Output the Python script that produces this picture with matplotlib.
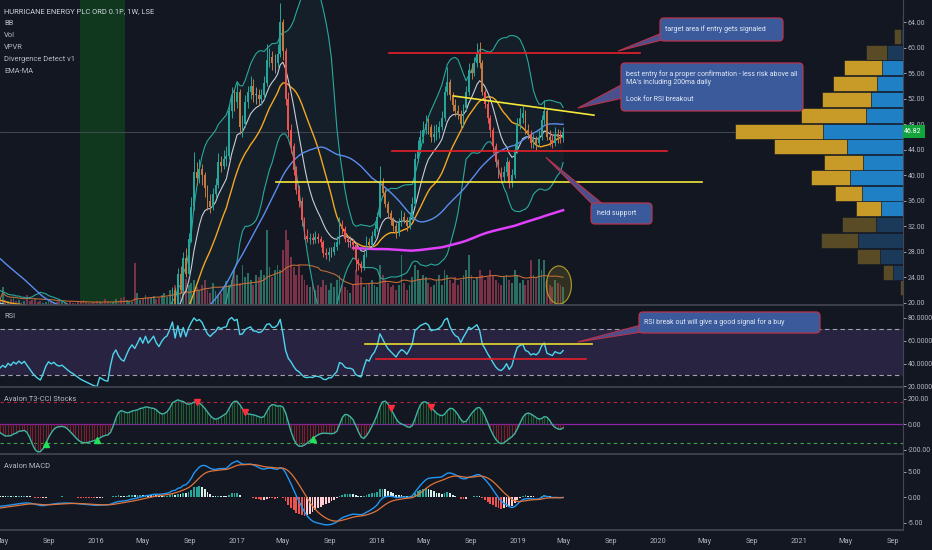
import matplotlib
matplotlib.use('Agg')
import matplotlib.pyplot as plt
import matplotlib.dates as mdates
import matplotlib.transforms as mtrans
from matplotlib.patches import FancyBboxPatch, Polygon, Ellipse
import numpy as np
import pandas as pd

plt.rcParams['font.family'] = ['Roboto', 'DejaVu Sans']

BG = '#131722'
TXT = '#b2b5be'
FS = 5.0

# weekly closes, first week 2014-01-06
closes = [
    30, 31, 32, 31.5, 33, 34, 35, 34, 35.5, 36, 37, 36.5, 38, 37.5, 38.5, 37, 38,
    38.5, 37.5, 38, 39, 37.5, 36.5, 37, 38, 37, 36, 37.5, 38, 37, 36, 35.5, 36, 35,
    33, 31, 29.5, 28, 27, 26, 25, 24.5, 24, 23.5, 23, 22.8, 22.5, 22.2, 22, 21.8, 21.6, 21.5,
    21.0, 20.1, 21.0, 20.0, 20.9, 19.9, 20.8, 19.8, 20.7, 19.7, 20.6, 19.6, 20.5, 19.5, 20.4, 19.4, 19.0,
    19.4, 18.9, 19.5, 19.0, 19.5, 19.1, 19.5, 19.0, 19.3,
    18.6, 17.8, 16.9, 16.1, 15.4, 14.9, 15.6,
    16.5, 17.1, 16.7, 16.9, 16.4, 16.2,
    16.3, 15.9, 15.5, 15.1, 14.8, 14.4, 14.0, 13.6, 13.3,
    13.0, 12.7, 12.4, 12.1, 11.9, 12.5, 12.2,
    11.9, 11.8, 12.9, 14.0, 14.5, 13.8,
    13.3, 13.1, 13.8, 14.5, 15.0, 14.6,
    15.3, 16.2, 15.6, 16.8, 16.0, 16.6, 17.3, 16.5,
    16.0, 16.9, 17.6, 18,
    19.5, 22, 19.6, 24.5, 22, 27, 24.5, 30, 35, 40.5,
    39.5, 41, 40, 38, 36, 35, 37, 38.5, 42, 41.5,
    42.5, 43, 50, 52.5, 51.5, 53, 47.5, 48, 51.5, 53,
    54, 52.5, 52.5, 52, 52.5, 54.5, 58, 58.5, 57.5, 57.5,
    59, 64, 59.5, 52, 47, 44.5, 40.8, 37.6, 36, 33,
    30.5, 30, 30.2, 29.8, 30.3, 30, 29.5, 27.8, 27.5, 28,
    28, 28.8, 29.5, 32, 31.5, 30, 29.5, 29.5, 29, 26.7,
    26, 25.5, 27.5, 29.5, 29, 30.5, 31.5, 33.5, 38.7, 37.2,
    35.5, 34, 33, 32, 31, 32.5, 33.5, 33, 32, 33.5,
    35.5, 42.5, 44, 46, 47, 48, 47.5, 46, 46.5, 46.7,
    47.5, 49, 53, 54.6, 52.5, 51, 50, 49.6, 48, 50.5,
    53, 56.5, 56, 57.5, 59, 57.5, 53, 51.2, 49, 47,
    44.5, 42, 40.3, 39.7, 40.5, 42, 38.7, 40, 44, 48,
    49, 49.7, 47, 46.5, 45, 45.5, 45, 46, 48.6, 50,
    46, 45.5, 45, 46.5, 46, 45.8, 46.82,
]

# highs / lows of the weeks shown on the price pane (from 2016-07-11)
vis_highs = [
    20, 22.5, 22.5, 25.5, 25.8, 28, 28.5, 31, 36.5, 43.6,
    42, 42.5, 41.8, 40.5, 38.5, 37, 38, 39.5, 43.5, 43,
    44, 44.5, 51, 53.8, 53.5, 54.5, 53.5, 49.5, 52.5, 54,
    55.5, 55, 53.8, 53.5, 53.5, 55.5, 60.5, 60, 59.5, 59,
    60.5, 67, 64.5, 60, 53, 48, 45, 41.5, 38.5, 36.5,
    33.5, 31.5, 31, 31, 31.2, 31, 30.5, 29.8, 28.5, 28.8,
    28.8, 29.5, 30.5, 33.5, 33, 32, 30.5, 30.5, 30, 29.3,
    27, 26.5, 28, 30.5, 30.2, 31.2, 32.5, 34.2, 41.5, 39.5,
    37.8, 36, 34.5, 33.5, 32.5, 33.2, 34.5, 34.2, 33.5, 34.2,
    36.5, 43.5, 45.5, 47, 48.5, 49.5, 49, 48, 47.8, 48,
    48.5, 50, 54, 57, 55, 53, 52, 51, 50.2, 51.2,
    54, 57.5, 57.5, 58.5, 60.7, 60.8, 58, 53.5, 52, 49.5,
    47.5, 45, 42.5, 41.2, 41.5, 42.8, 42.3, 41, 45, 49,
    50.5, 50.8, 50.2, 48, 47, 46.5, 46.2, 47, 49.5, 51.8,
    50.3, 47, 46.5, 47.5, 47.2, 47, 47.5,
]
vis_lows = [
    17.8, 19.2, 19.3, 19.4, 21.5, 21.8, 24, 24.2, 29.5, 34.5,
    38.5, 38.8, 38.5, 36.5, 34.5, 34, 34.5, 36.5, 38, 40.5,
    41, 41.5, 42.5, 49, 50, 50.5, 46.5, 46, 47.5, 50.5,
    52, 51.5, 51.2, 51, 51, 52, 54, 57, 56.5, 56,
    57, 58.5, 58, 51, 46, 43.5, 40, 37, 35, 32,
    30, 29.5, 29.2, 29.2, 29.4, 29.3, 28.8, 27.2, 26.8, 26.5,
    27.2, 27.5, 28.2, 29.2, 30.8, 29.5, 28.8, 28.8, 28.2, 25,
    25.2, 24.8, 25.2, 27.2, 28.4, 28.8, 30.2, 31.2, 33.2, 36.8,
    35, 33.5, 32.2, 31.3, 30.2, 30.5, 32, 32.5, 31.2, 31.5,
    33, 35, 42, 43.5, 45, 46.5, 46.5, 45.2, 45.2, 45.5,
    45.8, 47, 48.5, 52.5, 51.8, 50, 49.2, 48.8, 47, 47.5,
    50, 52.5, 55, 55.5, 57, 56.8, 52.5, 50.5, 48.2, 46,
    43.5, 41.2, 39.5, 38.8, 39, 39.8, 38, 38.2, 39.5, 43.5,
    47.2, 48.2, 46.5, 45.6, 44.2, 44.2, 44, 44.5, 45.5, 48,
    45.5, 44.5, 44.2, 44.5, 45, 45, 45.2,
]
vis_start = '2016-07-11'

# weekly volume (millions), from 2015-04-27
volumes = [
    6, 18, 5, 4, 6, 8, 4, 5, 3, 4, 10, 4,
    5, 6, 3, 4, 2, 3, 4, 3, 2, 3, 4, 3,
    3, 2, 3, 2, 2, 3, 4, 5, 3, 2, 2, 3,
    4, 3, 2, 6, 3, 2, 3, 6, 4, 7, 8, 5,
    4, 3, 42, 12, 5, 6, 10, 8, 8, 9, 6, 7,
    10, 12, 8, 15, 14, 20, 10, 25, 18, 26, 20, 22,
    25, 18, 15, 20, 25, 15, 12, 22, 14, 10, 12, 18,
    24, 20, 25, 35, 30, 22, 40, 28, 32, 25, 20, 30,
    28, 35, 30, 75, 38, 28, 35, 40, 35, 55, 75, 65,
    48, 38, 30, 40, 30, 25, 20, 18, 22, 15, 20, 18,
    25, 20, 15, 22, 18, 25, 30, 20, 18, 15, 12, 20,
    35, 30, 28, 18, 20, 22, 25, 20, 18, 40, 30, 25,
    22, 18, 20, 15, 20, 50, 22, 15, 20, 28, 40, 35,
    25, 30, 28, 22, 18, 20, 25, 30, 20, 35, 30, 25,
    22, 28, 20, 25, 30, 35, 50, 30, 25, 28, 35, 30,
    25, 28, 35, 30, 25, 22, 20, 28, 30, 25, 22, 35,
    30, 22, 25, 20, 25, 45, 30, 28, 46, 35, 45, 25,
    20, 18, 25, 22, 20, 18,
]
vol_start = '2015-04-27'

# volume profile rows (price centre, up and down volume)
vp_levels = [22.4, 24.8, 27.3, 29.7, 32.2, 34.7, 37.1, 39.6, 42.0,
             44.5, 46.9, 49.4, 51.8, 54.3, 56.8, 59.2, 61.7, 64.1]
vp_up = [2.7, 9.7, 22.3, 37.7, 34, 24.3, 27.3, 38.7, 39.3,
         73.3, 88.7, 65, 48.3, 43.3, 38.3, 21, 7.5, 1.3]
vp_down = [0, 10, 23.3, 44.7, 26.7, 22.3, 40.7, 53, 39.7,
           55.7, 79.7, 37.3, 32.3, 26.3, 20.7, 15.7, 2, 0]
vp_va_rows = range(5, 15)

# T3-CCI signal weeks
cci_buys = ['2015-08-27', '2016-01-06', '2017-07-14']
cci_sells = ['2016-09-20', '2017-01-20', '2018-02-04', '2018-05-19']

# drawn levels
red_lines = [('2018-01-31', '2019-11-15', 59.2), ('2018-02-08', '2020-01-24', 43.8)]
yellow_lines = [('2017-04-14', '2020-04-24', 38.9, 38.9), ('2018-07-19', '2019-07-18', 52.4, 49.4)]
rsi_yellow = ('2017-11-30', '2019-07-13', 56.9)
rsi_red = ('2017-12-29', '2019-06-27', 44.0)
green_zone = ('2015-11-20', '2016-03-18')
last_price = 46.82

xmin = pd.Timestamp('2015-04-27')
xmax = pd.Timestamp('2021-09-28')

# ---- indicators ----
weeks = pd.date_range('2014-01-06', periods=len(closes), freq='7D')
c = pd.Series(closes, index=weeks, dtype=float)
o = c.shift(1).fillna(c.iloc[0])


def ema(s, n):
    return s.ewm(span=n, adjust=False).mean()


def rma(s, n):
    return s.ewm(alpha=1.0 / n, adjust=False).mean()


def t3(s, n, v=0.7):
    e1 = ema(s, n); e2 = ema(e1, n); e3 = ema(e2, n)
    e4 = ema(e3, n); e5 = ema(e4, n); e6 = ema(e5, n)
    c1 = -v ** 3
    c2 = 3 * v ** 2 + 3 * v ** 3
    c3 = -6 * v ** 2 - 3 * v - 3 * v ** 3
    c4 = 1 + 3 * v + v ** 3 + 3 * v ** 2
    return c1 * e6 + c2 * e5 + c3 * e4 + c4 * e3


basis = c.rolling(20).mean()
dev = c.rolling(20).std(ddof=0)
upper = basis + 2 * dev
lower = basis - 2 * dev
ema10 = ema(c, 10)
sma50 = c.rolling(50).mean()
sma200 = c.rolling(200).mean()

d = c.diff()
rsi = 100 - 100 / (1 + rma(d.clip(lower=0), 14) / rma(-d.clip(upper=0), 14))

sm = c.rolling(14).mean()
md = c.rolling(14).apply(lambda a: np.mean(np.abs(a - a.mean())), raw=True)
cci = t3(((c - sm) / (0.015 * md)).bfill(), 4)

macd = ema(c, 12) - ema(c, 26)
signal = ema(macd, 9)
hist = macd - signal

vol = pd.Series(volumes, index=pd.date_range(vol_start, periods=len(volumes), freq='7D'), dtype=float)
vol_ma = vol.rolling(20, min_periods=1).mean()

# ---- figure ----
W, H = 932, 550
fig = plt.figure(figsize=(W / 100, H / 100), dpi=100, facecolor=BG)
pw = 903 / W


def pane(top, bot):
    return fig.add_axes([0, 1 - bot / H, pw, (bot - top) / H])


axv = pane(0, 305)
ax = fig.add_axes(axv.get_position(), sharex=axv)
ax_r = pane(305, 387)
ax_c = pane(387, 454)
ax_m = pane(454, 530)
ax.patch.set_visible(False)

for a in (axv, ax, ax_r, ax_c, ax_m):
    a.set_facecolor(BG)
    for s in a.spines.values():
        s.set_visible(False)
    a.set_xlim(xmin, xmax)
    a.tick_params(axis='x', length=0, colors=TXT, labelsize=5.3)
    a.tick_params(axis='y', which='both', right=True, left=False, labelright=True,
                  labelleft=False, length=2, width=0.6, colors=TXT, labelsize=FS, pad=1.5)
    a.spines['right'].set_visible(True)
    a.spines['right'].set_color('#434651')
axv.spines['right'].set_visible(False)
axv.set_yticks([])
axv.tick_params(axis='y', right=False, labelright=False)
for a in (axv, ax, ax_r, ax_c):
    a.tick_params(axis='x', labelbottom=False)

# volume layer
vx = mdates.date2num(vol.index)
vup = c.reindex(vol.index).values >= o.reindex(vol.index).values
axv.axvspan(pd.Timestamp(green_zone[0]), pd.Timestamp(green_zone[1]), color='#0f3a1f', alpha=0.95, lw=0, zorder=0)
axv.bar(vx, vol.values, width=4.8, color=np.where(vup, '#2b6e62', '#7c3246'), lw=0, zorder=1)
axv.plot(vol_ma.index, vol_ma.values, color='#c46a34', lw=0.8, zorder=2)
axv.set_ylim(0, 305)
axv.add_patch(Ellipse((mdates.date2num(pd.Timestamp('2019-04-18')), 20), width=65, height=38,
                      facecolor=(0.55, 0.5, 0.15, 0.25), edgecolor='#a8922c', lw=0.9, zorder=3))

# price pane
ax.set_ylim(19.64, 67.45)
ax.set_yticks(np.arange(20, 65, 4))
ax.yaxis.set_major_formatter(matplotlib.ticker.FormatStrFormatter('%.2f'))
ax.fill_between(weeks, lower, upper, color='#26a69a', alpha=0.06, lw=0, zorder=1)
ax.plot(weeks, upper, color='#2aa89c', lw=0.8, zorder=2)
ax.plot(weeks, lower, color='#2aa89c', lw=0.8, zorder=2)
ax.plot(weeks, basis, color='#f5a623', lw=1.0, zorder=2)
ax.plot(weeks, ema10, color='#c9ccd6', lw=0.8, zorder=2)
ax.plot(weeks, sma50, color='#5b8def', lw=1.0, zorder=2)
ax.plot(weeks, sma200, color='#e040fb', lw=1.8, zorder=2)
ax.axhline(last_price, color='#4a4e5a', lw=0.6, zorder=1)

i0 = weeks.get_loc(pd.Timestamp(vis_start))
cx = mdates.date2num(weeks[i0:])
ov = o.values[i0:]
cv = c.values[i0:]
bv = basis.values[i0:]
cols = []
for oo, cc, bb in zip(ov, cv, bv):
    if abs(cc - oo) < 0.05:
        cols.append('#8f929c')
    elif cc > oo:
        cols.append('#26a69a')
    elif cc >= bb:
        cols.append('#c47a3d')
    else:
        cols.append('#ef5350')
ax.vlines(cx, vis_lows, vis_highs, colors=cols, lw=0.7, zorder=3)
ax.bar(cx, np.maximum(np.abs(cv - ov), 0.15), bottom=np.minimum(ov, cv), width=4.6,
       color=cols, lw=0, zorder=3.1)

for s, e, lvl in red_lines:
    ax.plot([pd.Timestamp(s), pd.Timestamp(e)], [lvl, lvl], color='#e8202a', lw=1.2, zorder=4)
for s, e, l1, l2 in yellow_lines:
    ax.plot([pd.Timestamp(s), pd.Timestamp(e)], [l1, l2], color='#f4e83a', lw=1.2, zorder=4)

ax.text(1.0015, last_price, f'{last_price:.2f}', transform=mtrans.blended_transform_factory(ax.transAxes, ax.transData),
        ha='left', va='center', color='white', fontsize=FS, zorder=10, clip_on=False,
        bbox=dict(facecolor='#13a53c', edgecolor='none', boxstyle='square,pad=0.45'))

# volume profile
axp = ax.twiny()
axp.set_xlim(903, 0)
axp.set_axis_off()
for j, lvl in enumerate(vp_levels):
    inside = j in vp_va_rows
    cb = '#1f80c6' if inside else '#1b3a5a'
    cg = '#c89a28' if inside else '#5a4b27'
    axp.barh(lvl, vp_down[j], left=0, height=2.35, color=cb, edgecolor=BG, lw=0.4)
    axp.barh(lvl, vp_up[j], left=vp_down[j], height=2.35, color=cg, edgecolor=BG, lw=0.4)

# RSI pane
ax_r.set_ylim(19.5, 91.3)
ax_r.set_yticks([20, 40, 60, 80])
ax_r.yaxis.set_major_formatter(matplotlib.ticker.FormatStrFormatter('%.4f'))
ax_r.axhspan(30, 70, color='#7e57c2', alpha=0.2, lw=0)
for lvl in (30, 70):
    ax_r.axhline(lvl, color='#a0a3ad', lw=0.8, ls=(0, (4, 3)))
ax_r.plot(weeks, rsi, color='#4dd4ec', lw=1.0, zorder=3)
ax_r.plot([pd.Timestamp(rsi_yellow[0]), pd.Timestamp(rsi_yellow[1])], [rsi_yellow[2]] * 2, color='#e9dc2e', lw=1.2, zorder=4)
ax_r.plot([pd.Timestamp(rsi_red[0]), pd.Timestamp(rsi_red[1])], [rsi_red[2]] * 2, color='#e8202a', lw=1.2, zorder=4)

# T3-CCI pane
ax_c.set_ylim(-235, 292)
ax_c.set_yticks([-200, 0, 200])
ax_c.yaxis.set_major_formatter(matplotlib.ticker.FormatStrFormatter('%.2f'))
ax_c.axhline(0, color='#8e24aa', lw=0.9)
ax_c.axhline(175, color='#b3243e', lw=0.8, ls=(0, (3, 3)))
ax_c.axhline(-150, color='#3fa34a', lw=0.8, ls=(0, (3, 3)))
wx = mdates.date2num(weeks)
cv_ = cci.values
ax_c.vlines(wx, 0, cv_, colors=np.where(cv_ >= 0, '#1f5c32', '#7a1f2c'), lw=0.8, zorder=2)
ax_c.plot(weeks, cci, color='#3fb5a0', lw=1.0, zorder=3)
for dates_, mk, col in ((cci_buys, '^', '#22e05a'), (cci_sells, 'v', '#ff2a3a')):
    idx = [weeks.get_indexer([pd.Timestamp(t)], method='nearest')[0] for t in dates_]
    ax_c.plot(wx[idx], cv_[idx], ls='none', marker=mk, color=col, ms=4, zorder=5)

# MACD pane
ax_m.set_ylim(-6.45, 8.54)
ax_m.set_yticks([-5, 0, 5])
ax_m.yaxis.set_major_formatter(matplotlib.ticker.FormatStrFormatter('%.2f'))
hv = hist.values
prev = np.r_[hv[0], hv[:-1]]
hc = np.where(hv >= 0, np.where(hv >= prev, '#26a69a', '#d8efe9'),
              np.where(hv < prev, '#ef5350', '#ffcdd2'))
ax_m.bar(wx, hv, width=4.6, color=hc, lw=0, zorder=2)
ax_m.plot(weeks, macd, color='#2196f3', lw=1.0, zorder=3)
ax_m.plot(weeks, signal, color='#e0743a', lw=0.9, zorder=3)

tick_d, tick_l = [], []
for yr in range(2015, 2022):
    for m in (1, 5, 9):
        t = pd.Timestamp(yr, m, 1)
        if xmin <= t <= xmax:
            tick_d.append(t)
            tick_l.append(str(yr) if m == 1 else t.strftime('%b'))
ax_m.set_xticks(tick_d)
ax_m.set_xticklabels(tick_l)
ax_m.tick_params(axis='x', pad=6)

# pane separators
for yy in (305, 387, 454, 530):
    fig.add_artist(plt.Line2D([0, pw], [1 - yy / H] * 2, color='#434651', lw=1.2))

# legends
fig.text(4 / W, 1 - 11.5 / H, 'HURRICANE ENERGY PLC ORD 0.1P, 1W, LSE', color='#d1d4dc', fontsize=5.4, va='center')
for k, s in enumerate(['BB', 'Vol', 'VPVR', 'Divergence Detect v1', 'EMA-MA']):
    fig.text(4 / W, 1 - (23.3 + 12 * k) / H, s, color='#b8bbc4', fontsize=5.4, va='center')
fig.text(4 / W, 1 - 316 / H, 'RSI', color='#b8bbc4', fontsize=5.4, va='center')
fig.text(4 / W, 1 - 399.5 / H, 'Avalon T3-CCI Stocks', color='#b8bbc4', fontsize=5.4, va='center')
fig.text(4 / W, 1 - 466 / H, 'Avalon MACD', color='#b8bbc4', fontsize=5.4, va='center')


# callouts
def tip_px(a, date, val):
    px, py = a.transData.transform((mdates.date2num(pd.Timestamp(date)), val))
    return px, py


def callout(box, base, tip, lines):
    x0, y0, x1, y1 = box
    tail = Polygon([(base[0][0], H - base[0][1]), tip, (base[1][0], H - base[1][1])],
                   closed=True, transform=mtrans.IdentityTransform(),
                   facecolor='#4b4f8e', edgecolor='#b8334a', lw=0.8, zorder=4)
    fig.add_artist(tail)
    bx = FancyBboxPatch((x0, H - y1), x1 - x0, y1 - y0, boxstyle='round,pad=0,rounding_size=4',
                        transform=mtrans.IdentityTransform(), facecolor='#3a5a9c',
                        edgecolor='#b8334a', lw=0.9, zorder=5)
    fig.add_artist(bx)
    for tx, ty, s in lines:
        fig.text(tx / W, 1 - ty / H, s, color='#e3e9f4', fontsize=5.0, va='center', zorder=6)


callout((660, 18, 783, 41), [(662, 33), (662, 40)], tip_px(ax, '2019-09-19', 59.45),
        [(665, 29.5, 'target area if entry gets signaled')])
callout((621, 63, 803, 111), [(623, 84), (623, 98)], tip_px(ax, '2019-06-06', 50.5),
        [(626, 74, 'best entry for a proper confirmation - less risk above all'),
         (626, 82.5, "MA's including 200ma daily"),
         (626, 99.5, 'Look for RSI breakout')])
callout((591, 203, 652, 224), [(593, 205), (604, 205)], tip_px(ax, '2019-03-15', 42.8),
        [(597, 213.5, 'held support')])
callout((639, 312, 820, 333), [(641, 325), (648, 331)], tip_px(ax_r, '2019-06-06', 58.9),
        [(644, 322, 'RSI break out will give a good signal for a buy')])

fig.savefig('out.png', dpi=100, facecolor=BG)
